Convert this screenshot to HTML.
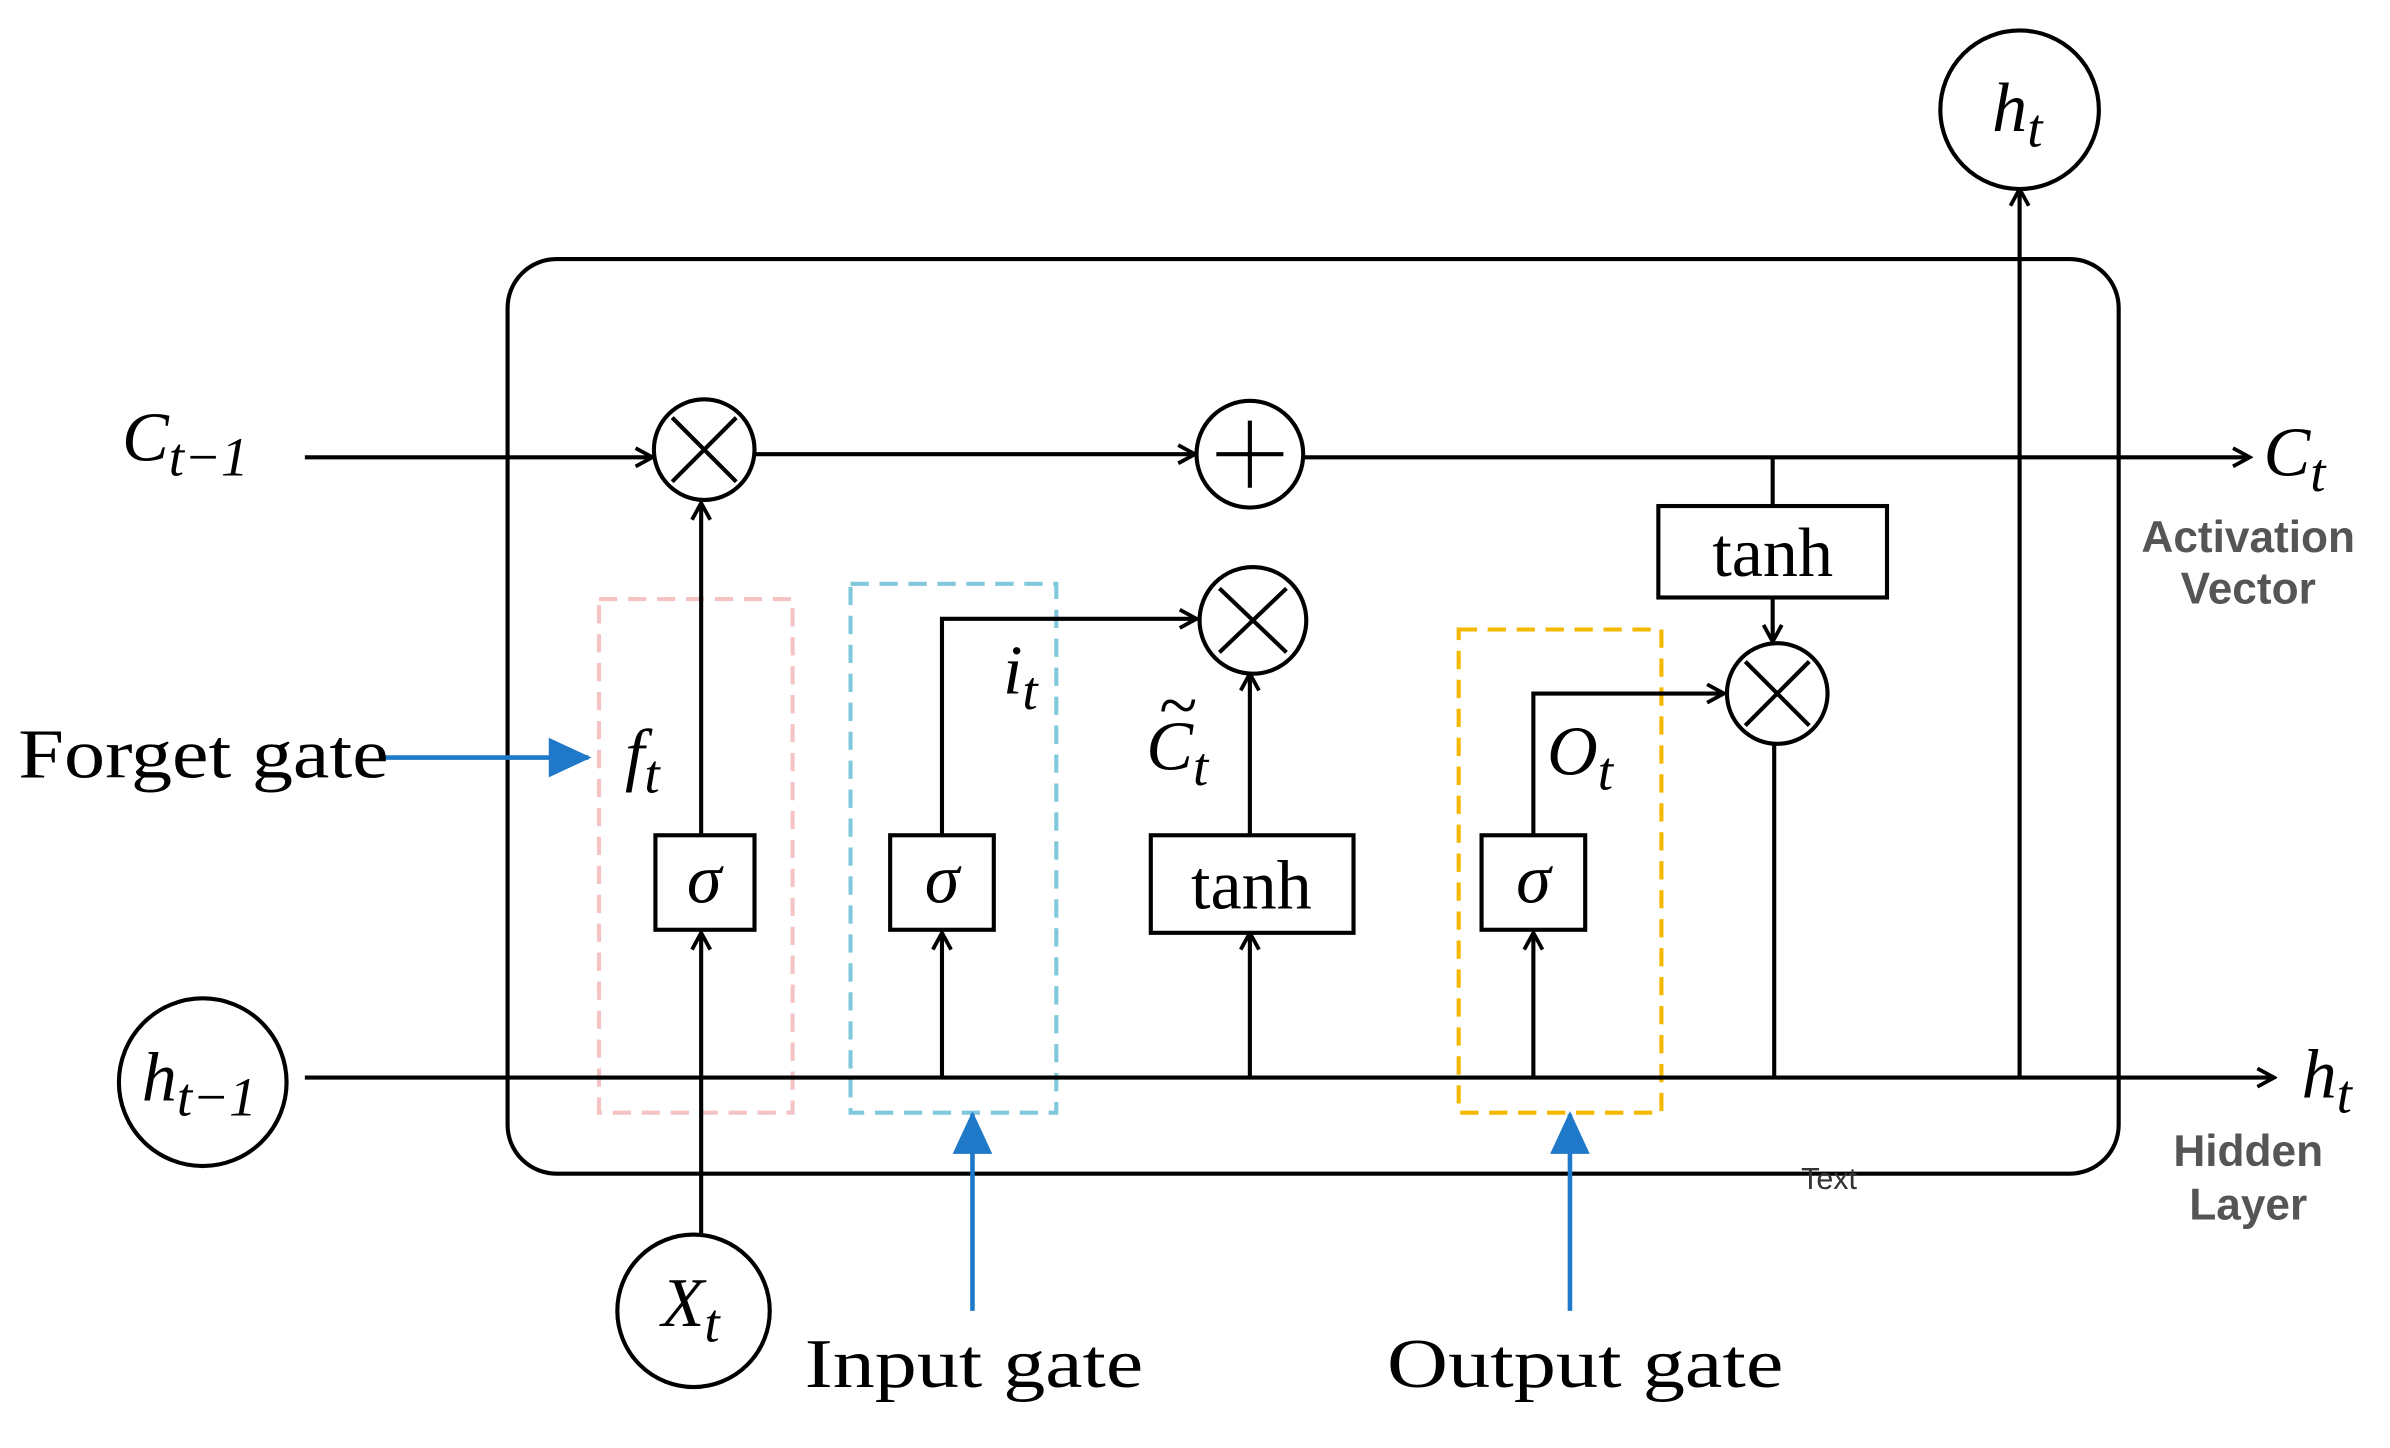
<!DOCTYPE html>
<html><head><meta charset="utf-8"><style>
html,body{margin:0;padding:0;background:#fff;}
svg{display:block;}
.s{font-family:"Liberation Serif",serif;}
.b{font-family:"Liberation Sans",sans-serif;font-weight:bold;fill:#555;}
</style></head><body>
<svg width="2390" height="1448" viewBox="0 0 1568 950" xmlns="http://www.w3.org/2000/svg">
<defs>
<marker id="a" markerWidth="14" markerHeight="14" refX="12" refY="7" orient="auto" markerUnits="userSpaceOnUse">
<path d="M1,1 L12,7 L1,13" fill="none" stroke="#000" stroke-width="2.5"/></marker>
<marker id="bl" markerWidth="30" markerHeight="30" refX="26" refY="13" orient="auto" markerUnits="userSpaceOnUse">
<path d="M0,0 L28,13 L0,26 Z" fill="#1f78c8"/></marker>
</defs>
<g fill="none" stroke="#000" stroke-width="2.7">
<rect x="333" y="170" width="1057" height="600" rx="32"/>
<rect x="393" y="393" width="127" height="337" stroke="#f4c4c4" stroke-dasharray="12,7"/>
<rect x="558" y="383" width="135" height="347" stroke="#80c8dc" stroke-dasharray="12,7"/>
<rect x="957" y="413" width="133" height="317" stroke="#f5b800" stroke-dasharray="12,7"/>
<line x1="200" y1="300" x2="428" y2="300" marker-end="url(#a)"/>
<line x1="495" y1="298" x2="784" y2="298" marker-end="url(#a)"/>
<line x1="855" y1="300" x2="1476" y2="300" marker-end="url(#a)"/>
<line x1="1163" y1="300" x2="1163" y2="332"/>
<line x1="1163" y1="392" x2="1163" y2="421" marker-end="url(#a)"/>
<line x1="200" y1="707" x2="1492" y2="707" marker-end="url(#a)"/>
<line x1="1325" y1="707" x2="1325" y2="124" marker-end="url(#a)"/>
<polyline points="1164,488 1164,707"/>
<line x1="460" y1="810" x2="460" y2="612" marker-end="url(#a)"/>
<line x1="460" y1="548" x2="460" y2="330" marker-end="url(#a)"/>
<line x1="618" y1="707" x2="618" y2="612" marker-end="url(#a)"/>
<polyline points="618,548 618,406 785,406" marker-end="url(#a)"/>
<line x1="820" y1="707" x2="820" y2="612" marker-end="url(#a)"/>
<line x1="820" y1="548" x2="820" y2="442" marker-end="url(#a)"/>
<line x1="1006" y1="707" x2="1006" y2="612" marker-end="url(#a)"/>
<polyline points="1006,548 1006,455 1131,455" marker-end="url(#a)"/>
<circle cx="462" cy="295" r="33" fill="#fff"/>
<circle cx="820" cy="298" r="35" fill="#fff"/>
<circle cx="822" cy="407" r="35" fill="#fff"/>
<circle cx="1166" cy="455" r="33" fill="#fff"/>
<circle cx="1325" cy="72" r="52" fill="#fff"/>
<circle cx="133" cy="710" r="55" fill="#fff"/>
<circle cx="455" cy="860" r="50" fill="#fff"/>
<path d="M441,274 L483,316 M483,274 L441,316"/>
<path d="M800,386 L844,428 M844,386 L800,428"/>
<path d="M1145,434 L1187,476 M1187,434 L1145,476"/>
<path d="M798,298 L842,298 M820,276 L820,320"/>
<rect x="430" y="548" width="65" height="62" fill="#fff"/>
<rect x="584" y="548" width="68" height="62" fill="#fff"/>
<rect x="972" y="548" width="68" height="62" fill="#fff"/>
<rect x="755" y="548" width="133" height="64" fill="#fff"/>
<rect x="1088" y="332" width="150" height="60" fill="#fff"/>
</g>
<g stroke="#1f78c8" stroke-width="3" fill="none">
<line x1="252" y1="497" x2="386" y2="497" marker-end="url(#bl)"/>
<line x1="638" y1="860" x2="638" y2="731" marker-end="url(#bl)"/>
<line x1="1030" y1="860" x2="1030" y2="731" marker-end="url(#bl)"/>
</g>
<g class="s" font-size="46" fill="#000">
<text x="462" y="592" text-anchor="middle" font-style="italic">σ</text>
<text x="618" y="592" text-anchor="middle" font-style="italic">σ</text>
<text x="1006" y="592" text-anchor="middle" font-style="italic">σ</text>
<text x="821" y="596" text-anchor="middle">tanh</text>
<text x="1163" y="378" text-anchor="middle">tanh</text>
<text x="12" y="510" textLength="243" lengthAdjust="spacingAndGlyphs">Forget gate</text>
<text x="528" y="910" textLength="222" lengthAdjust="spacingAndGlyphs">Input gate</text>
<text x="910" y="910" textLength="260" lengthAdjust="spacingAndGlyphs">Output gate</text>
<g font-style="italic">
<text x="80" y="302">C<tspan font-size="36" dy="10">t−1</tspan></text>
<text x="1485" y="312">C<tspan font-size="36" dy="10">t</tspan></text>
<text x="93" y="722">h<tspan font-size="36" dy="10">t−1</tspan></text>
<text x="1510" y="720">h<tspan font-size="36" dy="10">t</tspan></text>
<text x="1307" y="86">h<tspan font-size="36" dy="10">t</tspan></text>
<text x="434" y="870">X<tspan font-size="36" dy="10">t</tspan></text>
<text x="410" y="510">f<tspan font-size="36" dy="10">t</tspan></text>
<text x="658" y="455">i<tspan font-size="36" dy="10">t</tspan></text>
<text x="752" y="505">C<tspan font-size="36" dy="10">t</tspan></text>
<text x="760" y="478">~</text>
<text x="1015" y="508">O<tspan font-size="36" dy="10">t</tspan></text>
</g>
</g>
<g class="b" font-size="29" text-anchor="middle">
<text x="1475" y="362">Activation</text>
<text x="1475" y="396">Vector</text>
<text x="1475" y="765">Hidden</text>
<text x="1475" y="800">Layer</text>
</g>
<text x="1200" y="780" font-family="Liberation Sans,sans-serif" font-size="20" fill="#333" text-anchor="middle">Text</text>
</svg>
</body></html>
